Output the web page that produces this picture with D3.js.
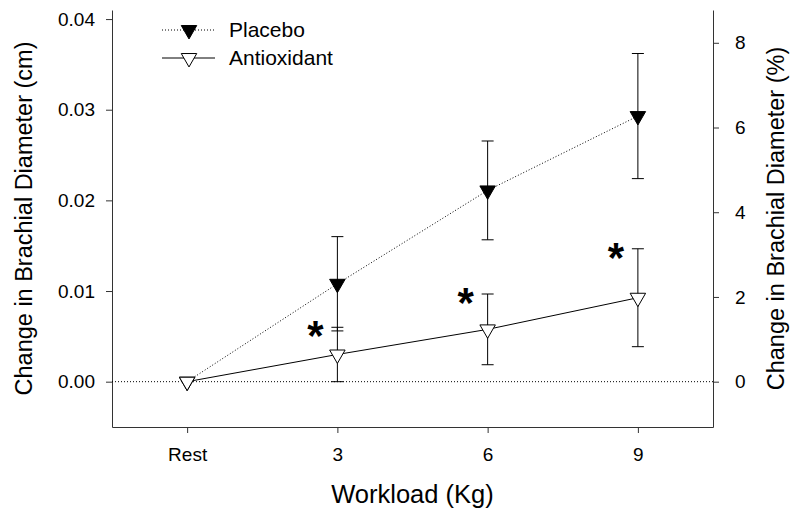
<!DOCTYPE html>
<html>
<head>
<meta charset="utf-8">
<script src="https://cdn.jsdelivr.net/npm/d3@7"></script>
<style>
  body { margin: 0; background: #fff; }
  text { font-family: "Liberation Sans", Arial, sans-serif; fill: #000; }
</style>
</head>
<body>
<div id="chart"></div>
<script>
// data (change in cm, mean and SE)
const workload = [0, 3, 6, 9];
const workloadLabels = ["Rest", "3", "6", "9"];
const placeboMean = [0, 0.0108, 0.0211, 0.0293];
const placeboErr = [0, 0.0052, 0.00545, 0.0069];
const antioxMean = [0, 0.0030, 0.00577, 0.00926];
const antioxErr = [0, 0.0030, 0.0039, 0.0054];
const significant = [false, true, true, true];
const leftTicks = [0, 0.01, 0.02, 0.03, 0.04];
const rightTicks = [0, 2, 4, 6, 8];
const pctPerCm = 214; // right axis is % of baseline diameter

const width = 800, height = 508;
const margin = { top: 10, right: 87, bottom: 80, left: 112 };

const svg = d3.select("#chart")
    .append("svg")
    .attr("width", width)
    .attr("height", height);

const x = d3.scaleLinear()
    .domain([-1.5, 10.5])
    .range([margin.left, width - margin.right]);

const y = d3.scaleLinear()
    .domain([-0.005, 0.041])
    .range([height - margin.bottom - 1, margin.top]);

const yR = d3.scaleLinear()
    .domain(y.domain().map(d => d * pctPerCm))
    .range(y.range());

// axes
const xAxis = svg.append("g")
    .attr("transform", `translate(0,${y.range()[0]})`)
    .call(d3.axisBottom(x).tickValues(workload)
        .tickFormat((d, i) => workloadLabels[i])
        .tickSize(6).tickSizeOuter(0).tickPadding(15));

const yAxis = svg.append("g")
    .attr("transform", `translate(${margin.left},0)`)
    .call(d3.axisLeft(y).tickValues(leftTicks).tickFormat(d3.format(".2f"))
        .tickSize(6).tickSizeOuter(0).tickPadding(11));

const yAxisR = svg.append("g")
    .attr("transform", `translate(${width - margin.right},0)`)
    .call(d3.axisRight(yR).tickValues(rightTicks).tickFormat(d3.format("d"))
        .tickSize(6).tickSizeOuter(0).tickPadding(16));

[xAxis, yAxis, yAxisR].forEach(g => {
    g.selectAll("text").attr("font-size", 19).attr("font-family", null);
    g.selectAll("path, line").attr("stroke", "#333");
});

// zero reference line
svg.append("line")
    .attr("x1", x.range()[0]).attr("x2", x.range()[1])
    .attr("y1", y(0)).attr("y2", y(0))
    .attr("stroke", "#000")
    .attr("stroke-dasharray", "1,2");

// axis titles
svg.append("text")
    .attr("x", (x.range()[0] + x.range()[1]) / 2)
    .attr("y", 503)
    .attr("text-anchor", "middle")
    .attr("font-size", 25.5)
    .text("Workload (Kg)");

svg.append("text")
    .attr("transform", `translate(32,${(y.range()[0] + y.range()[1]) / 2}) rotate(-90)`)
    .attr("text-anchor", "middle")
    .attr("font-size", 23.5)
    .text("Change in Brachial Diameter (cm)");

svg.append("text")
    .attr("transform", `translate(784,${(y.range()[0] + y.range()[1]) / 2}) rotate(-90)`)
    .attr("text-anchor", "middle")
    .attr("font-size", 23.5)
    .text("Change in Brachial Diameter (%)");

const tri = d3.symbol().type(d3.symbolTriangle).size(104);

function drawSeries(mean, err, dash, fill) {
    const pts = workload.map((w, i) => ({ w: w, m: mean[i], e: err[i] }));
    const line = d3.line().x(d => x(d.w)).y(d => y(d.m));

    svg.append("path")
        .datum(pts)
        .attr("d", line)
        .attr("fill", "none")
        .attr("stroke", "#000")
        .attr("stroke-width", 1)
        .attr("stroke-dasharray", dash);

    const eb = svg.append("g").selectAll("g")
        .data(pts.filter(d => d.e > 0))
        .enter().append("g")
        .attr("stroke", "#000");
    eb.append("line")
        .attr("x1", d => x(d.w)).attr("x2", d => x(d.w))
        .attr("y1", d => y(d.m - d.e)).attr("y2", d => y(d.m + d.e));
    eb.append("line")
        .attr("x1", d => x(d.w) - 6).attr("x2", d => x(d.w) + 6)
        .attr("y1", d => y(d.m + d.e)).attr("y2", d => y(d.m + d.e));
    eb.append("line")
        .attr("x1", d => x(d.w) - 6).attr("x2", d => x(d.w) + 6)
        .attr("y1", d => y(d.m - d.e)).attr("y2", d => y(d.m - d.e));

    svg.append("g").selectAll("path")
        .data(pts)
        .enter().append("path")
        .attr("d", tri)
        .attr("transform", d => `translate(${x(d.w)},${y(d.m)}) rotate(180)`)
        .attr("fill", fill)
        .attr("stroke", "#000")
        .attr("stroke-width", 1);
}

drawSeries(placeboMean, placeboErr, "1,2", "#000");
drawSeries(antioxMean, antioxErr, null, "#fff");

// significance stars
svg.append("g").selectAll("text")
    .data(workload.filter((w, i) => significant[i]))
    .enter().append("text")
    .attr("x", w => x(w) - 22)
    .attr("y", w => {
        const i = workload.indexOf(w);
        return y(antioxMean[i] + antioxErr[i]) + 23;
    })
    .attr("text-anchor", "middle")
    .attr("font-size", 42)
    .attr("font-weight", "bold")
    .text("*");

// legend
const legendItems = [
    { name: "Placebo", dash: "1,2", fill: "#000", y: 30 },
    { name: "Antioxidant", dash: null, fill: "#fff", y: 58 }
];
const legend = svg.append("g").selectAll("g")
    .data(legendItems)
    .enter().append("g")
    .attr("transform", d => `translate(0,${d.y})`);
legend.append("line")
    .attr("x1", 162).attr("x2", 215)
    .attr("stroke", "#000")
    .attr("stroke-dasharray", d => d.dash);
legend.append("path")
    .attr("d", tri)
    .attr("transform", "translate(189,0) rotate(180)")
    .attr("fill", d => d.fill)
    .attr("stroke", "#000");
legend.append("text")
    .attr("x", 229)
    .attr("dy", "0.35em")
    .attr("font-size", 21)
    .text(d => d.name);
</script>
</body>
</html>
